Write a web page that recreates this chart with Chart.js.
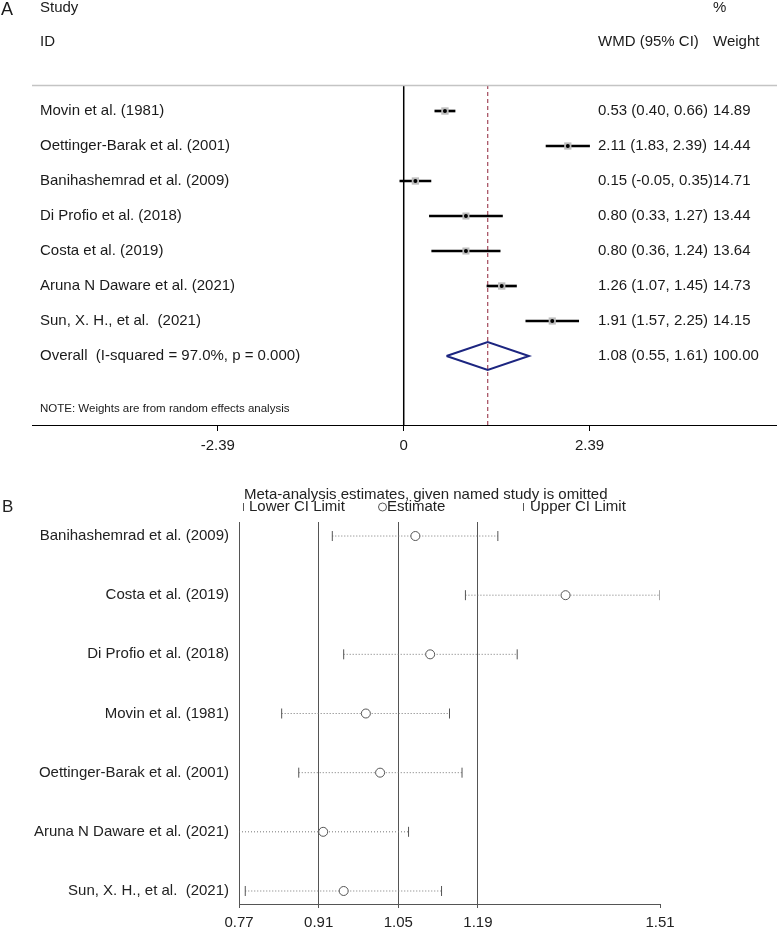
<!DOCTYPE html>
<html><head><meta charset="utf-8">
<script src="https://cdn.jsdelivr.net/npm/chart.js@4.4.0/dist/chart.umd.min.js"></script>
<style>
html,body{margin:0;padding:0;background:#fff;}
#wrap{position:relative;width:777px;height:931px;overflow:hidden;}
canvas{position:absolute;left:0;}
#ca{top:0;} #cb{top:470px;}
</style></head><body>
<div id="wrap"><canvas id="ca" width="777" height="470"></canvas><canvas id="cb" width="777" height="461"></canvas></div>
<script>
// ---------- Panel A data (forest plot) ----------
const studiesA = ['Movin et al. (1981)', 'Oettinger-Barak et al. (2001)', 'Banihashemrad et al. (2009)',
  'Di Profio et al. (2018)', 'Costa et al. (2019)', 'Aruna N Daware et al. (2021)', 'Sun, X. H., et al.  (2021)'];
const wmd     = [0.53, 2.11, 0.15, 0.80, 0.80, 1.26, 1.91];
const ciLow   = [0.40, 1.83, -0.05, 0.33, 0.36, 1.07, 1.57];
const ciHigh  = [0.66, 2.39, 0.35, 1.27, 1.24, 1.45, 2.25];
const weights = [14.89, 14.44, 14.71, 13.44, 13.64, 14.73, 14.15];
const overallA = [1.08, 0.55, 1.61];       // estimate, lower, upper
const overallWeight = 100.00;
const overallLabel = 'Overall  (I-squared = 97.0%, p = 0.000)';
const noteText = 'NOTE: Weights are from random effects analysis';
const ticksA = [-2.39, 0, 2.39];

// ---------- Panel B data (leave-one-out) ----------
const studiesB = ['Banihashemrad et al. (2009)', 'Costa et al. (2019)', 'Di Profio et al. (2018)',
  'Movin et al. (1981)', 'Oettinger-Barak et al. (2001)', 'Aruna N Daware et al. (2021)', 'Sun, X. H., et al.  (2021)'];
const lowB  = [0.934, 1.168, 0.954, 0.845, 0.875, 0.770, 0.781];
const estB  = [1.080, 1.344, 1.106, 0.993, 1.018, 0.918, 0.954];
const highB = [1.225, 1.510, 1.259, 1.140, 1.162, 1.068, 1.126];
const overallB = [1.05, 0.91, 1.19];       // estimate, lower, upper
const ticksB = [0.77, 0.91, 1.05, 1.19, 1.51];
const titleB = 'Meta-analysis estimates, given named study is omitted';
const legendB = ['Lower CI Limit', 'Estimate', 'Upper CI Limit'];

// ---------- common ----------
const FONT = '"Liberation Sans", Arial, Helvetica, sans-serif';
Chart.defaults.font.family = FONT;
Chart.defaults.color = '#1a1a1a';
const f2 = v => v.toFixed(2);

// layout constants (panel A)
const yMinA = 0.257, yMaxA = 9.971, rowOverall = studiesA.length + 1, diamondHalf = 0.4;
const colStudy = 40, colEst = 598, colW = 713;

const textA = {
  id: 'textA',
  afterDraw(chart) {
    const {ctx, chartArea: ca, scales: {y}} = chart;
    ctx.save();
    ctx.strokeStyle = '#c4c4c4'; ctx.lineWidth = 1.5;
    ctx.beginPath(); ctx.moveTo(ca.left, ca.top + 0.5); ctx.lineTo(ca.right, ca.top + 0.5); ctx.stroke();
    ctx.fillStyle = '#1a1a1a'; ctx.textBaseline = 'middle'; ctx.textAlign = 'left';
    ctx.font = '18px ' + FONT; ctx.fillText('A', 1, 10);
    ctx.font = '15px ' + FONT;
    ctx.fillText('Study', colStudy, y.getPixelForValue(-1.96));
    ctx.fillText('ID', colStudy, y.getPixelForValue(-0.98));
    ctx.fillText('%', colW, y.getPixelForValue(-1.96));
    ctx.fillText('WMD (95% CI)', colEst, y.getPixelForValue(-0.98));
    ctx.fillText('Weight', colW, y.getPixelForValue(-0.98));
    studiesA.forEach((s, i) => {
      const py = y.getPixelForValue(i + 1);
      ctx.fillText(s, colStudy, py);
      ctx.fillText(`${f2(wmd[i])} (${f2(ciLow[i])}, ${f2(ciHigh[i])})`, colEst, py);
      ctx.fillText(f2(weights[i]), colW, py);
    });
    const po = y.getPixelForValue(rowOverall);
    ctx.fillText(overallLabel, colStudy, po);
    ctx.fillText(`${f2(overallA[0])} (${f2(overallA[1])}, ${f2(overallA[2])})`, colEst, po);
    ctx.fillText(f2(overallWeight), colW, po);
    ctx.font = '11.5px ' + FONT;
    ctx.fillText(noteText, colStudy, y.getPixelForValue(9.5));
    ctx.restore();
  }
};

const ptsA = wmd.map((v, i) => ({x: v, y: i + 1}));
const diamond = [
  {x: overallA[1], y: rowOverall}, {x: overallA[0], y: rowOverall - diamondHalf},
  {x: overallA[2], y: rowOverall}, {x: overallA[0], y: rowOverall + diamondHalf},
  {x: overallA[1], y: rowOverall}
];

new Chart(document.getElementById('ca'), {
  type: 'scatter',
  data: { datasets: [
    { type: 'line', label: 'No effect', data: [{x: 0, y: yMinA}, {x: 0, y: yMaxA}],
      borderColor: '#000', borderWidth: 1.5, pointRadius: 0, order: 10 },
    { type: 'line', label: 'Overall estimate', data: [{x: overallA[0], y: yMinA}, {x: overallA[0], y: yMaxA}],
      borderColor: '#a3485a', borderWidth: 1.2, borderDash: [4, 3], pointRadius: 0, order: 9 },
    { type: 'bar', indexAxis: 'y', label: '95% CI',
      data: studiesA.map((s, i) => ({x: [ciLow[i], ciHigh[i]], y: i + 1})),
      backgroundColor: '#000', barThickness: 2, borderWidth: 0, order: 5 },
    { type: 'scatter', label: 'Weight', data: ptsA, pointStyle: 'rect',
      pointRadius: c => 1.35 * Math.sqrt(weights[c.dataIndex]), backgroundColor: '#bdbdbd', borderWidth: 0, order: 4 },
    { type: 'scatter', label: 'WMD', data: ptsA, pointStyle: 'circle', pointRadius: 2,
      backgroundColor: '#000', borderWidth: 0, order: 3 },
    { type: 'line', label: 'Overall', data: diamond, borderColor: '#1c2580', borderWidth: 2,
      pointRadius: 0, fill: false, tension: 0, order: 2 }
  ]},
  options: {
    responsive: false, animation: false, devicePixelRatio: 1,
    layout: {autoPadding: false, padding: {left: 32, right: 0, top: 85, bottom: 0}},
    plugins: {legend: {display: false}, tooltip: {enabled: false}},
    scales: {
      x: { type: 'linear', min: -4.78, max: 4.80, offset: false,
        afterBuildTicks: s => { s.ticks = ticksA.map(v => ({value: v})); },
        afterFit: s => { s.height = 45; },
        ticks: {autoSkip: false, maxRotation: 0, padding: 6, color: '#1a1a1a', font: {size: 15},
          callback: v => v === 0 ? '0' : f2(v)},
        grid: {drawOnChartArea: false, drawTicks: true, tickLength: 6, color: '#000', offset: false},
        border: {display: true, color: '#000', width: 1} },
      y: { type: 'linear', reverse: true, min: yMinA, max: yMaxA, display: false, offset: false,
        grid: {offset: false} }
    }
  },
  plugins: [textA]
});

// ---------- Panel B ----------
const textB = {
  id: 'textB',
  afterDraw(chart) {
    const ctx = chart.ctx;
    ctx.save();
    ctx.fillStyle = '#222'; ctx.strokeStyle = '#555'; ctx.lineWidth = 1;
    ctx.textBaseline = 'middle'; ctx.textAlign = 'left';
    ctx.font = '17px ' + FONT; ctx.fillText('B', 2, 37);
    ctx.font = '15px ' + FONT;
    ctx.fillText(titleB, 244, 25);
    const ly = 37;
    ctx.beginPath(); ctx.moveTo(243.5, ly - 4); ctx.lineTo(243.5, ly + 4); ctx.stroke();
    ctx.fillText(legendB[0], 249, ly);
    ctx.beginPath(); ctx.arc(382.5, ly, 4, 0, Math.PI * 2); ctx.stroke();
    ctx.fillText(legendB[1], 387, ly);
    ctx.beginPath(); ctx.moveTo(523.5, ly - 4); ctx.lineTo(523.5, ly + 4); ctx.stroke();
    ctx.fillText(legendB[2], 530, ly);
    ctx.restore();
  }
};

const dotted = [];
studiesB.forEach((s, i) => { dotted.push({x: lowB[i], y: i + 1}, {x: highB[i], y: i + 1}, {x: null, y: null}); });

new Chart(document.getElementById('cb'), {
  type: 'scatter',
  data: { datasets: [
    { type: 'line', label: 'CI', data: dotted, borderColor: '#777', borderWidth: 1, borderDash: [1, 2],
      pointRadius: 0, spanGaps: false, order: 5 },
    { type: 'scatter', label: legendB[0], data: lowB.map((v, i) => ({x: v, y: i + 1})),
      pointStyle: 'line', rotation: 90, pointRadius: 5, borderColor: '#555', borderWidth: 1, order: 3 },
    { type: 'scatter', label: legendB[2], data: highB.map((v, i) => ({x: v, y: i + 1})),
      pointStyle: 'line', rotation: 90, pointRadius: 5, borderColor: '#555', borderWidth: 1, order: 3 },
    { type: 'scatter', label: legendB[1], data: estB.map((v, i) => ({x: v, y: i + 1})),
      pointStyle: 'circle', pointRadius: 4.5, borderColor: '#555', backgroundColor: '#fff', borderWidth: 1, order: 2 }
  ]},
  options: {
    responsive: false, animation: false, devicePixelRatio: 1,
    layout: {autoPadding: false, padding: {left: 0, right: 117, top: 52, bottom: 0}},
    plugins: {legend: {display: false}, tooltip: {enabled: false}},
    scales: {
      x: { type: 'linear', min: ticksB[0], max: ticksB[ticksB.length - 1],
        afterBuildTicks: s => { s.ticks = ticksB.map(v => ({value: v})); },
        afterFit: s => { s.height = 27; },
        ticks: {autoSkip: false, maxRotation: 0, padding: 6, color: '#222', font: {size: 15}, callback: v => f2(v)},
        grid: {drawOnChartArea: true, drawTicks: true, tickLength: 4, lineWidth: 1,
          color: c => (c.tick && overallB.includes(c.tick.value)) ? '#555' : 'rgba(0,0,0,0)', tickColor: '#555'},
        border: {display: true, color: '#555', width: 1} },
      y: { type: 'linear', reverse: true, min: 0.763, max: 7.22,
        afterBuildTicks: s => { s.ticks = studiesB.map((_, i) => ({value: i + 1})); },
        afterFit: s => { s.width = 239; },
        ticks: {autoSkip: false, padding: 10, color: '#222', font: {size: 15},
          callback: v => studiesB[Math.round(v) - 1] || ''},
        grid: {display: true, drawOnChartArea: false, drawTicks: false},
        border: {display: true, color: '#555', width: 1} }
    }
  },
  plugins: [textB]
});
</script>
</body></html>
